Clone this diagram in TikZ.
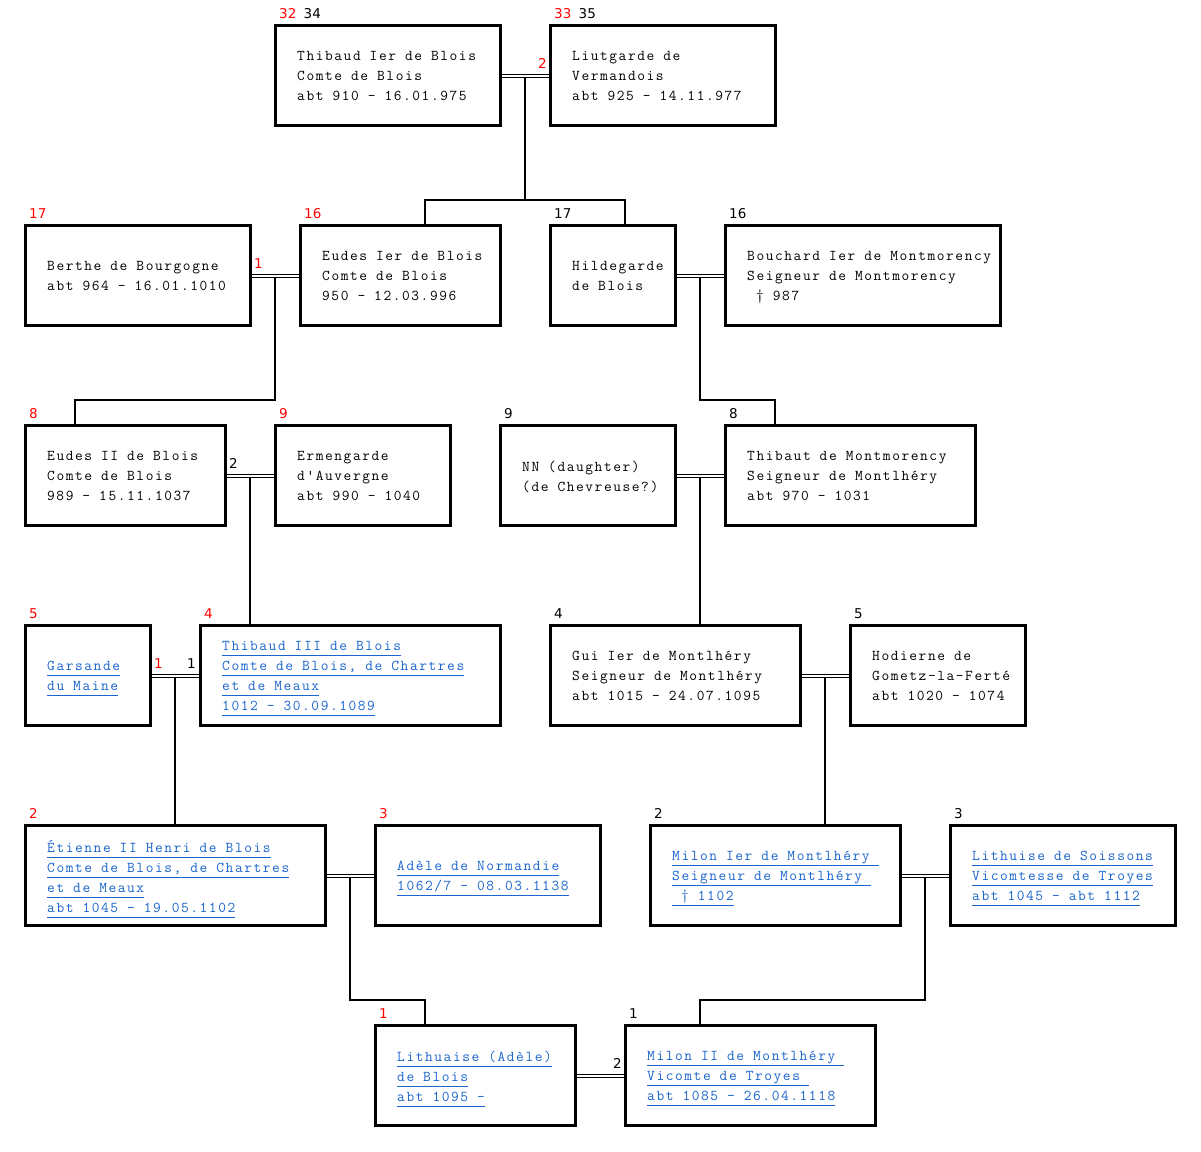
\documentclass[tikz,border=0pt]{standalone}
\usepackage{fontspec}
\setmonofont{Latin Modern Mono}[LetterSpace=10.5]
\newfontfamily\lblfont{DejaVu Sans}
\usetikzlibrary{calc}
\definecolor{lnkcol}{RGB}{25,100,205}
\definecolor{numred}{RGB}{255,0,0}
\newcommand\ul[1]{\leavevmode\vtop{\hbox{\vrule width0pt height0pt depth4.5pt#1}\hrule height1pt}}
\newcommand\ptfont{\ttfamily\fontsize{15}{20}\selectfont}
\newcommand\ptspace{\spaceskip 9pt\relax\xspaceskip 9pt\relax}
\newcommand\person[7]{%
  \node[pbox, minimum width={#4-#2}, minimum height={#5-#3}] (#1) at (#2,#3) {};
  \node[ptext, #6] (#1-t) at ($(#1.west)+(22,4)$) {#7};
}
\tikzset{
  pbox/.style={draw, line width=3pt, anchor=north west, inner sep=0pt, outer sep=0pt},
  ptext/.style={anchor=west, align=left, inner sep=0pt, font=\ptfont,
    execute at begin node={\ptspace\strut}, execute at end node={\strut}},
  lnk/.style={text=lnkcol},
  num/.style={font=\lblfont\fontsize{13.5}{15}\selectfont, inner sep=0pt},
  nr/.style={num, text=numred},
  nb/.style={num, text=black},
  conn/.style={line width=2pt},
  wed/.style={line width=1pt},
}
\begin{document}
\begin{tikzpicture}[x=1pt,y=-1pt]
\fill[white] (0,0) rectangle (1201,1151);
\useasboundingbox (0,0) rectangle (1201,1151);

% ---- row 1
\person{thib}{275}{25}{500}{125}{}{Thibaud Ier de Blois\\Comte de Blois\\abt 910 - 16.01.975}
\person{liut}{550}{25}{775}{125}{}{Liutgarde de\\Vermandois\\abt 925 - 14.11.977}
% ---- row 2
\person{berthe}{25}{225}{250}{325}{}{Berthe de Bourgogne\\abt 964 - 16.01.1010}
\person{eudesa}{300}{225}{500}{325}{}{Eudes Ier de Blois\\Comte de Blois\\950 - 12.03.996}
\person{hild}{550}{225}{675}{325}{}{Hildegarde\\de Blois}
\person{bouch}{725}{225}{1000}{325}{}{Bouchard Ier de Montmorency\\Seigneur de Montmorency\\\hspace*{9pt}† 987}
% ---- row 3
\person{eudesb}{25}{425}{225}{525}{}{Eudes II de Blois\\Comte de Blois\\989 - 15.11.1037}
\person{ermen}{275}{425}{450}{525}{}{Ermengarde\\d'Auvergne\\abt 990 - 1040}
\person{nn}{500}{425}{675}{525}{}{NN (daughter)\\(de Chevreuse?)}
\person{thibm}{725}{425}{975}{525}{}{Thibaut de Montmorency\\Seigneur de Montlhéry\\abt 970 - 1031}
% ---- row 4
\person{gars}{25}{625}{150}{725}{lnk}{\ul{Garsande}\\\ul{du Maine}}
\person{thibc}{200}{625}{500}{725}{lnk}{\ul{Thibaud III de Blois}\\\ul{Comte de Blois, de Chartres}\\\ul{et de Meaux}\\\ul{1012 - 30.09.1089}}
\person{gui}{550}{625}{800}{725}{}{Gui Ier de Montlhéry\\Seigneur de Montlhéry\\abt 1015 - 24.07.1095}
\person{hodi}{850}{625}{1025}{725}{}{Hodierne de\\Gometz-la-Ferté\\abt 1020 - 1074}
% ---- row 5
\person{etie}{25}{825}{325}{925}{lnk}{\ul{Étienne II Henri de Blois}\\\ul{Comte de Blois, de Chartres}\\\ul{et de Meaux}\\\ul{abt 1045 - 19.05.1102}}
\person{adele}{375}{825}{600}{925}{lnk}{\ul{Adèle de Normandie}\\\ul{1062/7 - 08.03.1138}}
\person{milona}{650}{825}{900}{925}{lnk}{\ul{Milon Ier de Montlhéry\ }\\\ul{Seigneur de Montlhéry\ }\\\ul{\ † 1102}}
\person{lithu}{950}{825}{1175}{925}{lnk}{\ul{Lithuise de Soissons}\\\ul{Vicomtesse de Troyes}\\\ul{abt 1045 - abt 1112}}
% ---- row 6
\person{litha}{375}{1025}{575}{1125}{lnk}{\ul{Lithuaise (Adèle)}\\\ul{de Blois}\\\ul{abt 1095 -}}
\person{milonb}{625}{1025}{875}{1125}{lnk}{\ul{Milon II de Montlhéry\ }\\\ul{Vicomte de Troyes\ }\\\ul{abt 1085 - 26.04.1118}}

% ---- generation numbers
\node[nr, anchor=base west] (n-thib) at ($(thib.north west)+(4,-7)$) {32\hspace{3pt} \textcolor{black}{34}};
\node[nr, anchor=base west] (n-liut) at ($(liut.north west)+(4,-7)$) {33\hspace{3pt} \textcolor{black}{35}};
\node[nr, anchor=base west] (n-berthe) at ($(berthe.north west)+(4,-7)$) {17};
\node[nr, anchor=base west] (n-eudesa) at ($(eudesa.north west)+(4,-7)$) {16};
\node[nb, anchor=base west] (n-hild) at ($(hild.north west)+(4,-7)$) {17};
\node[nb, anchor=base west] (n-bouch) at ($(bouch.north west)+(4,-7)$) {16};
\node[nr, anchor=base west] (n-eudesb) at ($(eudesb.north west)+(4,-7)$) {8};
\node[nr, anchor=base west] (n-ermen) at ($(ermen.north west)+(4,-7)$) {9};
\node[nb, anchor=base west] (n-nn) at ($(nn.north west)+(4,-7)$) {9};
\node[nb, anchor=base west] (n-thibm) at ($(thibm.north west)+(4,-7)$) {8};
\node[nr, anchor=base west] (n-gars) at ($(gars.north west)+(4,-7)$) {5};
\node[nr, anchor=base west] (n-thibc) at ($(thibc.north west)+(4,-7)$) {4};
\node[nb, anchor=base west] (n-gui) at ($(gui.north west)+(4,-7)$) {4};
\node[nb, anchor=base west] (n-hodi) at ($(hodi.north west)+(4,-7)$) {5};
\node[nr, anchor=base west] (n-etie) at ($(etie.north west)+(4,-7)$) {2};
\node[nr, anchor=base west] (n-adele) at ($(adele.north west)+(4,-7)$) {3};
\node[nb, anchor=base west] (n-milona) at ($(milona.north west)+(4,-7)$) {2};
\node[nb, anchor=base west] (n-lithu) at ($(lithu.north west)+(4,-7)$) {3};
\node[nr, anchor=base west] (n-litha) at ($(litha.north west)+(4,-7)$) {1};
\node[nb, anchor=base west] (n-milonb) at ($(milonb.north west)+(4,-7)$) {1};

% ---- marriages (double lines)
\foreach \a/\b/\m in {thib/liut/m1, berthe/eudesa/m2, hild/bouch/m3, eudesb/ermen/m4, nn/thibm/m5,
                      gars/thibc/m6, gui/hodi/m7, etie/adele/m8, milona/lithu/m9, litha/milonb/m10}{
  \draw[wed] ([yshift=0.5pt]\a.east) -- ([yshift=0.5pt]\b.west);
  \draw[wed] ([yshift=-2pt]\a.east) -- ([yshift=-2pt]\b.west);
  \coordinate (\m) at ($([yshift=-2pt]\a.east)!.5!([yshift=-2pt]\b.west)$);
}
% marriage numbers
\node[nr, anchor=base east] (w1) at ($(liut.west)+(-3,-7)$) {2};
\node[nr, anchor=base west] (w2) at ($(berthe.east)+(4,-7)$) {1};
\node[nb, anchor=base west] (w4) at ($(eudesb.east)+(4,-7)$) {2};
\node[nr, anchor=base west] (w6a) at ($(gars.east)+(4,-7)$) {1};
\node[nb, anchor=base east] (w6b) at ($(thibc.west)+(-4,-7)$) {1};
\node[nb, anchor=base east] (w10) at ($(milonb.west)+(-3,-7)$) {2};

% ---- descent lines
\draw[conn] (m1) -- (m1 |- 0,200) -| ([xshift=125pt]eudesa.north west);
\draw[conn] (m1 |- 0,200) -| ([xshift=75pt]hild.north west);
\draw[conn] (m2) -- (m2 |- 0,400) -| ([xshift=50pt]eudesb.north west);
\draw[conn] (m3) -- (m3 |- 0,400) -| ([xshift=50pt]thibm.north west);
\draw[conn] (m4) -- (m4 |- thibc.north);
\draw[conn] (m5) -- (m5 |- gui.north);
\draw[conn] (m6) -- (m6 |- etie.north);
\draw[conn] (m7) -- (m7 |- milona.north);
\draw[conn] (m8) -- (m8 |- 0,1000) -| ([xshift=50pt]litha.north west);
\draw[conn] (m9) -- (m9 |- 0,1000) -| ([xshift=75pt]milonb.north west);
\end{tikzpicture}
\end{document}
